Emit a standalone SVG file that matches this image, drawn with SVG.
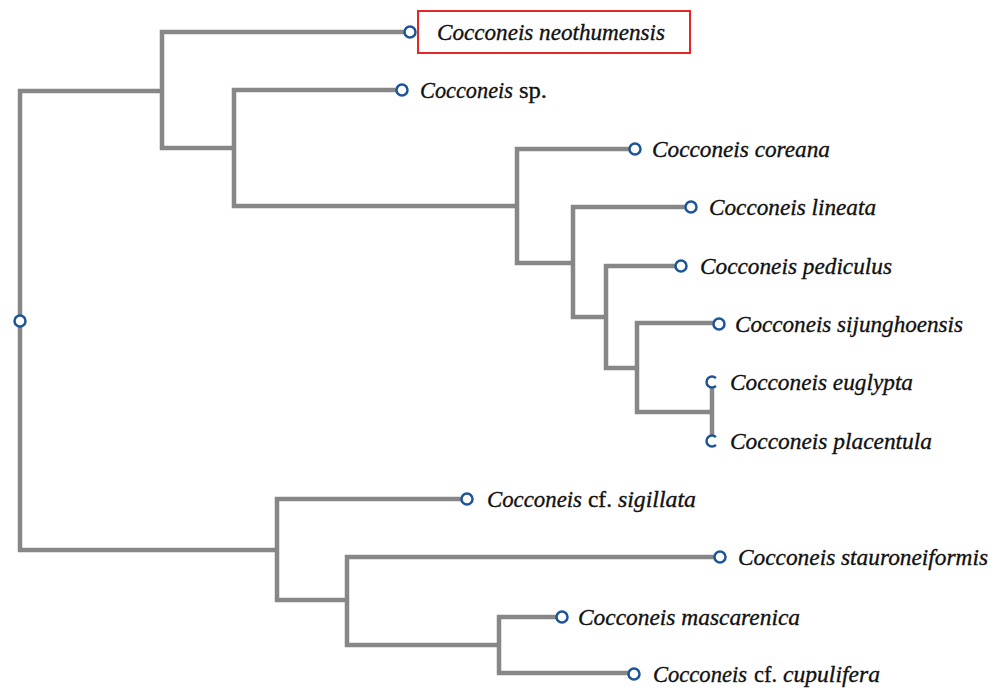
<svg xmlns="http://www.w3.org/2000/svg" width="1003" height="690" viewBox="0 0 1003 690">
<style>
.br{fill:none;stroke:#878787;stroke-width:4.5;stroke-linejoin:miter;stroke-linecap:butt}
.tip{fill:#fff;stroke:#1c5499;stroke-width:2.5}
.lb{font-family:"Liberation Serif","Times New Roman",serif;font-size:24px;fill:#111;stroke:#111;stroke-width:0.35}
.it{font-style:italic}
.hl{fill:none;stroke:#e8262a;stroke-width:2}
</style>
<rect x="0" y="0" width="1003" height="690" fill="#fff"/>
<g id="connectors">
<path class="br" d="M162,91 H20 V550 H277"/>
<path class="br" d="M405,32 H162 V148 H234"/>
<path class="br" d="M397,90 H234 V206 H517"/>
<path class="br" d="M630,149 H517 V263 H573"/>
<path class="br" d="M686,207 H573 V317 H606"/>
<path class="br" d="M676,266 H606 V368 H637"/>
<path class="br" d="M714,323 H637 V412 H712"/>
<path class="br" d="M712,382 V441"/>
<path class="br" d="M462,499 H277 V600 H347"/>
<path class="br" d="M715,557 H347 V645 H499"/>
<path class="br" d="M557,617 H499 V673 H629"/>
</g>
<g id="root"><circle class="tip" cx="20" cy="321" r="5.5"/></g>
<g id="neothumensis">
<circle class="tip" cx="410" cy="32" r="5.5"/>
<rect class="hl" x="418" y="11" width="272" height="42"/>
<text class="lb it" x="437" y="40" textLength="228" lengthAdjust="spacingAndGlyphs">Cocconeis neothumensis</text>
</g>
<g id="sp">
<circle class="tip" cx="402" cy="90" r="5.5"/>
<text class="lb" y="98"><tspan class="it" x="420" textLength="93" lengthAdjust="spacingAndGlyphs">Cocconeis</tspan><tspan x="519" textLength="28" lengthAdjust="spacingAndGlyphs">sp.</tspan></text>
</g>
<g id="coreana">
<circle class="tip" cx="635" cy="149" r="5.5"/>
<text class="lb it" x="652" y="157" textLength="178" lengthAdjust="spacingAndGlyphs">Cocconeis coreana</text>
</g>
<g id="lineata">
<circle class="tip" cx="691" cy="207" r="5.5"/>
<text class="lb it" x="709" y="215" textLength="167" lengthAdjust="spacingAndGlyphs">Cocconeis lineata</text>
</g>
<g id="pediculus">
<circle class="tip" cx="681" cy="266" r="5.5"/>
<text class="lb it" x="700" y="274" textLength="192" lengthAdjust="spacingAndGlyphs">Cocconeis pediculus</text>
</g>
<g id="sijunghoensis">
<circle class="tip" cx="719" cy="324" r="5.5"/>
<text class="lb it" x="735" y="332" textLength="228" lengthAdjust="spacingAndGlyphs">Cocconeis sijunghoensis</text>
</g>
<g id="euglypta">
<path class="tip" d="M715.9,378.1 A5.5,5.5 0 1 0 715.9,385.9"/>
<text class="lb it" x="730" y="390" textLength="183" lengthAdjust="spacingAndGlyphs">Cocconeis euglypta</text>
</g>
<g id="placentula">
<path class="tip" d="M715.9,437.1 A5.5,5.5 0 1 0 715.9,444.9"/>
<text class="lb it" x="730" y="449" textLength="202" lengthAdjust="spacingAndGlyphs">Cocconeis placentula</text>
</g>
<g id="sigillata">
<circle class="tip" cx="467" cy="499" r="5.5"/>
<text class="lb" y="507"><tspan class="it" x="487" textLength="95" lengthAdjust="spacingAndGlyphs">Cocconeis</tspan><tspan x="588" textLength="24" lengthAdjust="spacingAndGlyphs">cf.</tspan><tspan class="it" x="618" textLength="78" lengthAdjust="spacingAndGlyphs">sigillata</tspan></text>
</g>
<g id="stauroneiformis">
<circle class="tip" cx="720" cy="557" r="5.5"/>
<text class="lb it" x="738" y="565" textLength="250" lengthAdjust="spacingAndGlyphs">Cocconeis stauroneiformis</text>
</g>
<g id="mascarenica">
<circle class="tip" cx="562" cy="617" r="5.5"/>
<text class="lb it" x="578" y="625" textLength="222" lengthAdjust="spacingAndGlyphs">Cocconeis mascarenica</text>
</g>
<g id="cupulifera">
<circle class="tip" cx="634" cy="674" r="5.5"/>
<text class="lb" y="682"><tspan class="it" x="653" textLength="94" lengthAdjust="spacingAndGlyphs">Cocconeis</tspan><tspan x="754" textLength="23" lengthAdjust="spacingAndGlyphs">cf.</tspan><tspan class="it" x="783" textLength="97" lengthAdjust="spacingAndGlyphs">cupulifera</tspan></text>
</g>
</svg>
